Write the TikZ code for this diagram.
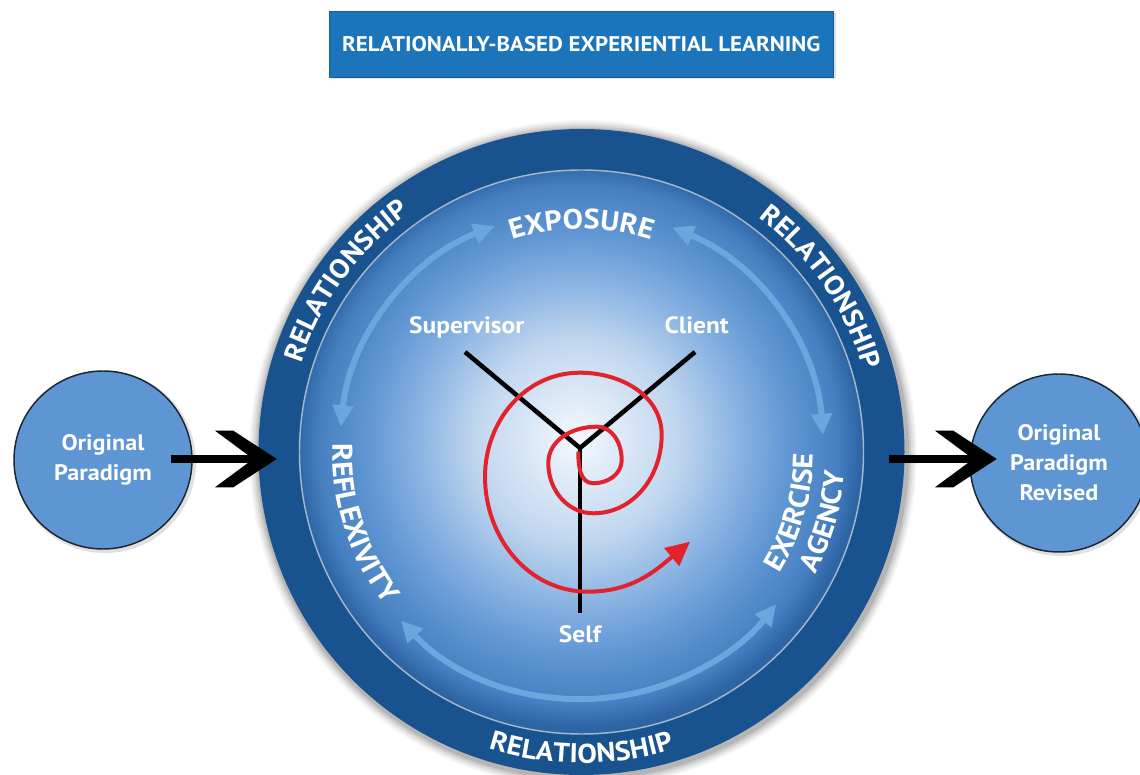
\documentclass[tikz,border=0pt]{standalone}
\usepackage{fontspec}
\setmainfont{PT Sans}[FakeStretch=1.08]
\usetikzlibrary{arrows.meta,decorations.text,calc}

\definecolor{ringblue}{HTML}{19538F}
\definecolor{titleblue}{HTML}{1C74BB}
\definecolor{titleedge}{HTML}{145E9E}
\definecolor{sideblue}{HTML}{5E95D3}
\definecolor{sideedge}{HTML}{1B2633}
\definecolor{arcblue}{HTML}{6CA6DF}
\definecolor{spiralred}{HTML}{E3232B}
\definecolor{rimline}{HTML}{A3B6CB}
\definecolor{dA}{HTML}{F4F8FD}
\definecolor{dAB}{HTML}{DDE9F7}
\definecolor{dB}{HTML}{C0D6EF}
\definecolor{dC}{HTML}{8CB5E3}
\definecolor{dD}{HTML}{5E95D2}
\definecolor{dE}{HTML}{4780C1}
\definecolor{dF}{HTML}{2C64A4}

\pgfdeclareradialshading{diskshade}{\pgfpoint{-0.5bp}{1.2bp}}{%
 color(0bp)=(dA); color(4bp)=(dAB); color(9bp)=(dB); color(14bp)=(dC);
 color(19bp)=(dD); color(23bp)=(dE); color(25bp)=(dF); color(50bp)=(dF)}

\newcommand\fRing{\bfseries\fontsize{20.3}{20}\selectfont}
\newcommand\fExp{\bfseries\fontsize{21}{21}\selectfont}
\newcommand\fRef{\bfseries\fontsize{21.3}{21}\selectfont}
\newcommand\fAg{\bfseries\fontsize{21}{21}\selectfont}

\begin{document}
\begin{tikzpicture}[x=0.75pt,y=0.75pt,
  titlebox/.style={rectangle, fill=titleblue, draw=titleedge, line width=0.6pt,
    minimum width=378pt, minimum height=49.2pt, inner sep=0pt, text=white,
    font=\bfseries\fontsize{15.9}{18}\selectfont},
  lbl/.style={text=white, font=\bfseries\fontsize{17.7}{20}\selectfont, inner sep=0pt},
  sidecirc/.style={circle, fill=sideblue, draw=sideedge, line width=1.1pt,
    minimum size=133.5pt, inner sep=0pt, align=center, text=white,
    font=\bfseries\fontsize{16.8}{22.5}\selectfont},
  spoke/.style={line width=3.4pt, black},
  arcarrow/.style={line width=4.5pt, arcblue,
    {Triangle[length=16pt,width=15pt]}-{Triangle[length=16pt,width=15pt]}},
  spiral/.style={line width=3pt, spiralred, -{Triangle[length=18pt,width=17pt]}},
  bigshaft/.style={line width=6pt, black},
  curvetext/.style={decorate, decoration={text along path, text align=center,
    text color=white, text={#1}}},
]
\useasboundingbox (0,0) rectangle (1140,775);
\fill[white] (0,0) rectangle (1140,775);
\clip (0,0) rectangle (1140,775);

% title
\fill[black, opacity=0.12] (331.5,695.5) rectangle (835.5,761.5);
\node[titlebox] (title) at (581.3,730.5) {RELATIONALLY-BASED EXPERIENTIAL LEARNING};

% main ring
\coordinate (C) at (581.5,323);
\foreach \k/\o in {11/0.03,9/0.05,7/0.06,5/0.08,3/0.1}
  \fill[black, opacity=\o] ($(C)+(1.5,-2)$) circle[radius=323+\k];
\node[circle, fill=ringblue, minimum size=484.5pt, inner sep=0pt] (ring) at (C) {};
\shade[shading=diskshade] (C) circle[radius=282];
\draw[rimline, line width=1.1pt] (C) circle[radius=282];

% light blue cycle arrows
\draw[arcarrow] ($(C)+(174:242)$) arc[start angle=174, end angle=111, radius=242];
\draw[arcarrow] ($(C)+(68:242)$) arc[start angle=68, end angle=4, radius=242];
\draw[arcarrow] ($(C)+(223:247)$) arc[start angle=223, end angle=322, radius=247];

% ring texts
\path[curvetext={|\fRing|RELATIONSHIP}] ($(C)+(194:294)$) arc[start angle=194, end angle=94, radius=294];
\path[curvetext={|\fRing|RELATIONSHIP}] ($(C)+(84.5:294)$) arc[start angle=84.5, end angle=-15.5, radius=294];
\path[curvetext={|\fRing|RELATIONSHIP}] ($(C)+(220:311)$) arc[start angle=220, end angle=320, radius=311];

% stage texts
\path[curvetext={|\fExp|EXPOSURE}] ($(C)+(150:223)$) arc[start angle=150, end angle=30, radius=223];
\path[curvetext={|\fRef|REFLEXIVITY}] ($(C)+(148:249)$) arc[start angle=148, end angle=248, radius=249];
\path[curvetext={|\fAg|EXERCISE}] ($(C)+(-66:232)$) arc[start angle=-66, end angle=34, radius=232];
\path[curvetext={|\fAg|AGENCY}] ($(C)+(-66:264)$) arc[start angle=-66, end angle=34, radius=264];

% spokes
\coordinate (J) at (580,327);
\coordinate (supE) at (465,423);
\coordinate (cliE) at (695,423);
\coordinate (selfE) at (580,162);
\draw[spoke] (J) -- (supE);
\draw[spoke] (J) -- (cliE);
\draw[spoke] (J) -- (selfE);
\node[lbl, anchor=base] (sup) at (466.7,441.7) {Supervisor};
\node[lbl, anchor=base] (cli) at (696.7,441.7) {Client};
\node[lbl, anchor=base] (self) at (580,132) {Self};

% spiral
\coordinate (s0) at (578.3,323.3);
\coordinate (s1) at (593.3,291.7);
\coordinate (s2) at (621.7,315);
\coordinate (s3) at (596.7,348.3);
\coordinate (s4) at (548.3,311.7);
\coordinate (s5) at (593.3,261.7);
\coordinate (s6) at (661.7,340);
\coordinate (s7) at (580,402.3);
\coordinate (s8) at (485,298.3);
\coordinate (s9) at (588,183.3);
\coordinate (s10) at (690,233.3);
\draw[spiral] (s0) to[out=-90,in=180] (s1) to[out=0,in=-90] (s2)
  to[out=90,in=0] (s3) to[out=180,in=90] (s4) to[out=-90,in=180] (s5)
  to[out=0,in=-90] (s6) to[out=90,in=0] (s7) to[out=180,in=90] (s8)
  to[out=-90,in=180] (s9) to[out=0,in=220] (s10);

% side circles
\fill[black, opacity=0.12] (105,313) circle[radius=91];
\node[sidecirc] (orig) at (103,315) {Original\\Paradigm};
\fill[black, opacity=0.12] (1061,310) circle[radius=91];
\node[sidecirc] (rev) at (1059,312) {Original\\Paradigm\\Revised};

% black arrows
\coordinate (tipL) at (276.7,316);
\coordinate (tipR) at (996.7,316);
\draw[bigshaft] ([xshift=-16.5pt]orig.east |- tipL) -- ([xshift=-17pt]tipL);
\fill (tipL) -- ++(-43.4,28.3) -- ++(-18.3,0) -- ++(38.3,-28.3)
  -- ++(-38.3,-28.3) -- ++(18.3,0) -- cycle;
\draw[bigshaft] ([xshift=-12pt]ring.east |- tipR) -- ([xshift=-17pt]tipR);
\fill (tipR) -- ++(-43.4,28.3) -- ++(-18.3,0) -- ++(38.3,-28.3)
  -- ++(-38.3,-28.3) -- ++(18.3,0) -- cycle;
\end{tikzpicture}
\end{document}
